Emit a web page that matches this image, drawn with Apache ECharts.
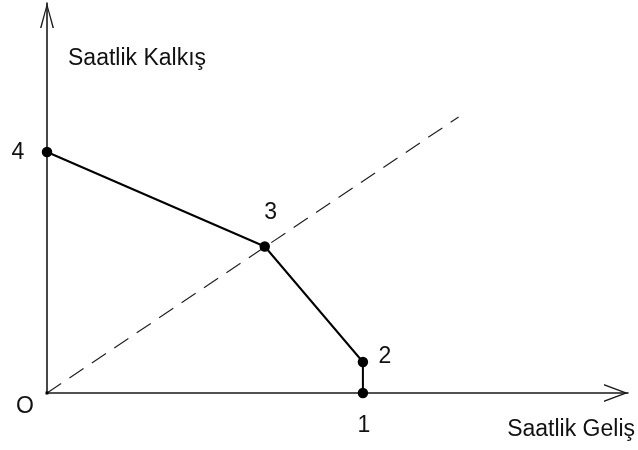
<!DOCTYPE html>
<html>
<head>
<meta charset="utf-8">
<script src="https://cdn.jsdelivr.net/npm/echarts@6/dist/echarts.min.js"></script>
<style>
  html, body { margin: 0; padding: 0; background: #fff; }
  #chart { width: 638px; height: 450px; }
</style>
</head>
<body>
<div id="chart"></div>
<script>
// Hourly arrivals (x) vs hourly departures (y): capacity envelope
const pointNames = ['4', '3', '2', '1'];
const arrivals   = [0, 218.5, 317, 317];
const departures = [241, 146.5, 31, 0];

// balanced-operations ray from the origin
const rayNames = ['O', ''];
const rayX = [0, 413];
const rayY = [0, 276];

const xAxisTitle = 'Saatlik Geliş';
const yAxisTitle = 'Saatlik Kalkış';

// label placement around each point
const labelOffsets = [[-29, 1], [6, -34], [22, -5], [1, 33]];
const originOffset = [-22, 14];

const FONT = "'Liberation Sans', Arial, sans-serif";
const INK = '#111';
const FS = 23;

const chart = echarts.init(document.getElementById('chart'), null, { renderer: 'canvas' });

const envelope = arrivals.map((x, i) => ({
  value: [x, departures[i]],
  label: { show: true, formatter: pointNames[i], offset: labelOffsets[i] }
}));

// origin gets a tiny square marker, the far end of the ray none
const ray = rayX.map((x, i) => ({
  value: [x, rayY[i]],
  symbol: i === 0 ? 'rect' : 'emptyCircle',
  symbolSize: i === 0 ? 3 : 0,
  label: { show: rayNames[i] !== '', formatter: rayNames[i], offset: originOffset }
}));

// open chevron heads for the axis ends (tip at top of the path)
const yHead = 'path://M28,0 L56,100 L50,100 L28,16 L6,100 L0,100 Z';
const xHead = 'path://M37.5,0 L75,100 L69,100 L37.5,16 L6,100 L0,100 Z';

chart.setOption({
  animation: false,
  backgroundColor: '#fff',
  grid: { left: 47, right: 8, top: 3, bottom: 57, containLabel: false },
  xAxis: {
    type: 'value', min: 0, max: 583,
    axisLine: {
      show: true, onZero: false,
      lineStyle: { color: '#1a1a1a', width: 1.6 },
      symbol: ['none', xHead], symbolSize: [18, 24], symbolOffset: [0, -12]
    },
    axisTick: { show: false }, axisLabel: { show: false }, splitLine: { show: false },
    name: xAxisTitle, nameLocation: 'end', nameGap: 7,
    nameTextStyle: { fontFamily: FONT, fontSize: FS, color: INK, align: 'right', verticalAlign: 'top', padding: [25, 0, 0, 0] }
  },
  yAxis: {
    type: 'value', min: 0, max: 390,
    axisLine: {
      show: true, onZero: false,
      lineStyle: { color: '#1a1a1a', width: 1.6 },
      symbol: ['none', yHead], symbolSize: [14, 25], symbolOffset: [0, -12.5]
    },
    axisTick: { show: false }, axisLabel: { show: false }, splitLine: { show: false },
    name: yAxisTitle, nameLocation: 'end', nameGap: -67,
    nameTextStyle: { fontFamily: FONT, fontSize: FS, color: INK, align: 'left', padding: [0, 0, 0, 21] }
  },
  series: [
    {
      type: 'line', data: ray, showSymbol: true, silent: true, z: 2,
      itemStyle: { color: '#000' },
      lineStyle: { color: '#222', width: 1.2, type: [17, 10] },
      label: { position: 'inside', fontFamily: FONT, fontSize: FS, color: INK }
    },
    {
      type: 'line', data: envelope, symbol: 'circle', symbolSize: 10.5, z: 3,
      itemStyle: { color: '#000' },
      lineStyle: { color: '#000', width: 2 },
      label: { position: 'inside', fontFamily: FONT, fontSize: FS, color: INK }
    }
  ]
});
</script>
</body>
</html>
